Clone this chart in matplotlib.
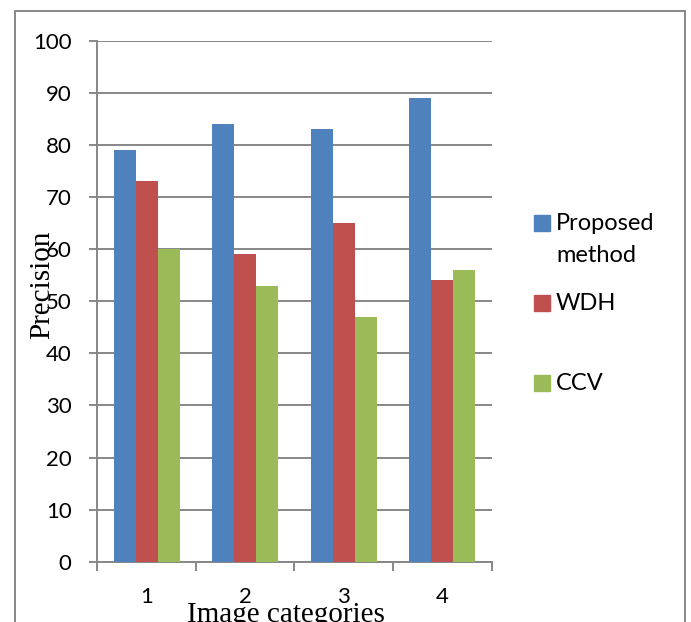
import matplotlib.pyplot as plt
from matplotlib.patches import Rectangle
import numpy as np

# data
categories = ["1", "2", "3", "4"]
series = ["Proposed\nmethod", "WDH", "CCV"]
proposed = [79, 84, 83, 89]
wdh = [73, 59, 65, 54]
ccv = [60, 53, 47, 56]
colors = ["#4F81BD", "#C0504D", "#9BBB59"]

W, H = 691, 622
fig = plt.figure(figsize=(W / 100, H / 100), dpi=100)
grey = "#878787"

ax = fig.add_axes([97.3 / W, 1 - 561.7 / H, (491.7 - 97.3) / W, (561.7 - 40.7) / H])

x = np.arange(1, len(categories) + 1)
bw = 0.223
for i, vals in enumerate([proposed, wdh, ccv]):
    ax.bar(x + (i - 1) * bw, vals, width=bw, color=colors[i], zorder=3)

ax.set_xlim(0.5, 4.5)
ax.set_ylim(0, 100)
ax.set_yticks(range(0, 101, 10))
ax.yaxis.grid(True, color=grey, linewidth=1.4, zorder=0)
ax.set_axisbelow(True)

for s in ["top", "right"]:
    ax.spines[s].set_visible(False)
for s in ["left", "bottom"]:
    ax.spines[s].set_color(grey)
    ax.spines[s].set_linewidth(1.4)

ax.tick_params(axis="y", direction="out", length=6, width=1.4, color=grey,
               labelsize=16, pad=12.5)
ax.set_xticks(x)
ax.set_xticklabels(categories)
ax.tick_params(axis="x", which="major", length=0, labelsize=16, pad=18.5)
ax.set_xticks(np.arange(0.5, 4.6, 1), minor=True)
ax.tick_params(axis="x", which="minor", direction="out", length=6.5, width=1.4, color=grey)
for lab in ax.get_xticklabels() + ax.get_yticklabels():
    lab.set_family("Lato")

# axis titles (serif, overlapping like the original)
fig.text(286 / W, 0 / H, "Image categories", family="Liberation Serif",
         fontsize=21, ha="center", va="baseline")
fig.text(42 / W, 1 - 285 / H, "Precision", family="Liberation Serif",
         fontsize=21, ha="center", va="center", rotation=90)

# legend
for i, lab in enumerate(series):
    yc = 223 + i * 80
    fig.patches.append(Rectangle((534 / W, 1 - (yc + 8) / H), 16 / W, 16 / H,
                                 transform=fig.transFigure, color=colors[i]))
    for j, line in enumerate(lab.split("\n")):
        fig.text(556 / W, 1 - (yc + j * 32) / H, line, family="Lato",
                 fontsize=17, ha="left", va="center")

# outer frame
fig.patches.append(Rectangle((14.7 / W, -0.05), (685 - 14.7) / W, 1.05 - 11 / H,
                             transform=fig.transFigure, fill=False,
                             edgecolor=grey, linewidth=1.4))

fig.savefig("out.png", dpi=100)
